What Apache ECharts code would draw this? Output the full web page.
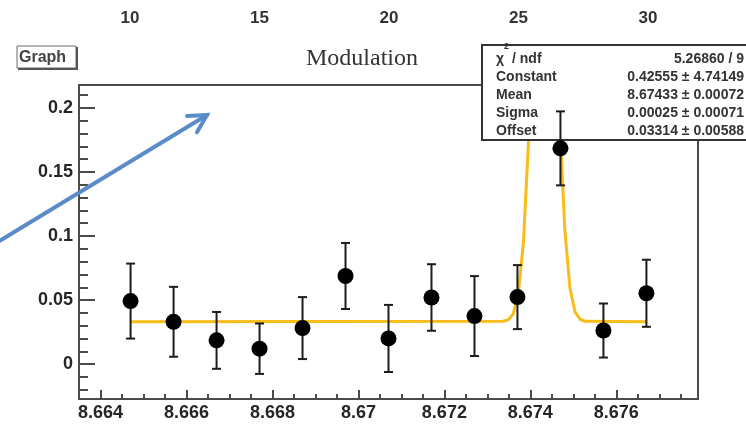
<!DOCTYPE html>
<html>
<head>
<meta charset="utf-8">
<script src="https://cdn.jsdelivr.net/npm/echarts@6/dist/echarts.min.js"></script>
<style>
  html, body { margin: 0; padding: 0; background: #ffffff; }
  #chart { width: 746px; height: 424px; }
</style>
</head>
<body>
<div id="chart"></div>
<script>
// Measured modulation amplitude per frequency bin, with symmetric errors
const pointX   = [8.6647, 8.6657, 8.6667, 8.6677, 8.6687, 8.6697, 8.6707, 8.6717, 8.6727, 8.6737, 8.6747, 8.6757, 8.6767];
const pointY   = [0.0492, 0.0330, 0.0185, 0.0120, 0.0281, 0.0688, 0.0200, 0.0520, 0.0375, 0.0523, 0.1685, 0.0262, 0.0553];
const pointErr = [0.0293, 0.0273, 0.0222, 0.0197, 0.0242, 0.0258, 0.0262, 0.0260, 0.0312, 0.0250, 0.0289, 0.0211, 0.0262];

// Vertices of the fitted gaussian-plus-offset curve
const fitX = [8.6647, 8.67336, 8.67348, 8.67360, 8.67372, 8.67384, 8.67396, 8.67408, 8.67420, 8.67432,
              8.67444, 8.67456, 8.67468, 8.67480, 8.67492, 8.67504, 8.67516, 8.67528, 8.6767];
const fitY = [0.0331, 0.0334, 0.0344, 0.0391, 0.0548, 0.0955, 0.1755, 0.2912, 0.4049, 0.4587,
              0.4194, 0.3119, 0.1929, 0.1058, 0.0594, 0.0407, 0.0348, 0.0334, 0.0331];

// Tick labels
const xTickLabels   = ['8.664', '8.666', '8.668', '8.67', '8.672', '8.674', '8.676'];
const yTickLabels   = ['0', '0.05', '0.1', '0.15', '0.2'];
const topTickLabels = ['10', '15', '20', '25', '30'];

// Fit statistics box
const chi2Text   = '5.26860 / 9';
const statNames  = ['Constant', 'Mean', 'Sigma', 'Offset'];
const statValues = ['0.42555 \u00b1 4.74149', '8.67433 \u00b1 0.00072', '0.00025 \u00b1 0.00071', '0.03314 \u00b1 0.00588'];

const titleText = 'Modulation';
const padLabel  = 'Graph';

const X_MIN = 8.6635, X_MAX = 8.6779;
const Y_MIN = -0.0273, Y_MAX = 0.218;

const frameColor = '#4a4a4a';
const labelFont = { fontFamily: 'Liberation Sans', fontWeight: 'bold', fontSize: 18, color: '#262626' };

function pickLabel(list) {
  return function (v) {
    const s = String(+(+v).toFixed(4));
    return list.indexOf(s) >= 0 ? s : '';
  };
}

const chart = echarts.init(document.getElementById('chart'), null, { renderer: 'canvas' });

// Stats box text elements
const statElems = [];
const rowY0 = 59, rowStep = 18;
statElems.push({
  type: 'text', z: 21, style: { x: 496, y: rowY0, text: '\u03c7', font: 'bold 14px "Liberation Sans"', fill: '#333', verticalAlign: 'middle' }
});
statElems.push({
  type: 'text', z: 21, style: { x: 504, y: 47, text: '2', font: 'bold 9px "Liberation Sans"', fill: '#333', verticalAlign: 'middle' }
});
statElems.push({
  type: 'text', z: 21, style: { x: 512, y: rowY0, text: '/ ndf', font: 'bold 14px "Liberation Sans"', fill: '#333', verticalAlign: 'middle' }
});
statElems.push({
  type: 'text', z: 21, style: { x: 744, y: rowY0, text: chi2Text, font: 'bold 14px "Liberation Sans"', fill: '#333', align: 'right', verticalAlign: 'middle' }
});
statNames.forEach(function (name, i) {
  const y = rowY0 + rowStep * (i + 1);
  statElems.push({
    type: 'text', z: 21, style: { x: 496, y: y, text: name, font: 'bold 14px "Liberation Sans"', fill: '#333', verticalAlign: 'middle' }
  });
  statElems.push({
    type: 'text', z: 21, style: { x: 744, y: y, text: statValues[i], font: 'bold 14px "Liberation Sans"', fill: '#333', align: 'right', verticalAlign: 'middle' }
  });
});

// Pointer arrow
const tip = [207, 115], tail = [-4, 243];
const dx = tail[0] - tip[0], dy = tail[1] - tip[1];
const len = Math.sqrt(dx * dx + dy * dy);
const ux = dx / len, uy = dy / len;
function rot(a) {
  const c = Math.cos(a), s = Math.sin(a);
  return [tip[0] + 20 * (ux * c - uy * s), tip[1] + 20 * (ux * s + uy * c)];
}
const arrowColor = '#5b8cc9';

const option = {
  animation: false,
  backgroundColor: '#ffffff',
  grid: [
    { left: 79, right: 48, top: 85, bottom: 25, show: true, borderColor: frameColor, borderWidth: 2, backgroundColor: '#ffffff' },
    { left: 130, width: 518, top: 30, height: 1, show: false }
  ],
  xAxis: [
    {
      gridIndex: 0, type: 'value', position: 'bottom', min: X_MIN, max: X_MAX, splitNumber: 7,
      axisLine: { show: true, onZero: false, lineStyle: { color: frameColor, width: 2 } },
      axisTick: { show: true, inside: true, length: 9, lineStyle: { color: frameColor, width: 2 } },
      axisLabel: Object.assign({ margin: 5, formatter: pickLabel(xTickLabels) }, labelFont),
      splitLine: { show: false }
    },
    {
      gridIndex: 0, type: 'value', position: 'bottom', min: X_MIN, max: X_MAX, splitNumber: 29,
      axisLine: { show: false, onZero: false },
      axisTick: { show: true, inside: true, length: 5, lineStyle: { color: frameColor, width: 2 } },
      axisLabel: { show: false },
      splitLine: { show: false }
    },
    {
      gridIndex: 1, type: 'value', position: 'top', min: 10, max: 30, interval: 5,
      axisLine: { show: false, onZero: false }, axisTick: { show: false }, splitLine: { show: false },
      axisLabel: Object.assign({ margin: 3, formatter: pickLabel(topTickLabels) }, labelFont, { fontSize: 17, color: '#333' })
    }
  ],
  yAxis: [
    {
      gridIndex: 0, type: 'value', position: 'left', min: Y_MIN, max: Y_MAX, splitNumber: 5,
      axisLine: { show: true, onZero: false, lineStyle: { color: frameColor, width: 2 } },
      axisTick: { show: true, inside: true, length: 16, lineStyle: { color: frameColor, width: 2 } },
      axisLabel: Object.assign({ margin: 6, formatter: pickLabel(yTickLabels) }, labelFont),
      splitLine: { show: false }
    },
    {
      gridIndex: 0, type: 'value', position: 'left', min: Y_MIN, max: Y_MAX, splitNumber: 24,
      axisLine: { show: false, onZero: false },
      axisTick: { show: true, inside: true, length: 9, lineStyle: { color: frameColor, width: 2 } },
      axisLabel: { show: false },
      splitLine: { show: false }
    },
    { gridIndex: 1, type: 'value', show: false, min: 0, max: 1 }
  ],
  series: [
    {
      name: 'fit', type: 'line', xAxisIndex: 0, yAxisIndex: 0, z: 1, silent: true,
      showSymbol: false, smooth: false, clip: true,
      lineStyle: { color: '#f9bd19', width: 3 },
      data: fitX.map(function (x, i) { return [x, fitY[i]]; })
    },
    {
      name: 'errors', type: 'custom', xAxisIndex: 0, yAxisIndex: 0, z: 30, silent: true,
      encode: { x: 0, y: [1, 2] },
      data: pointX.map(function (x, i) { return [x, pointY[i] - pointErr[i], pointY[i] + pointErr[i]]; }),
      renderItem: function (params, api) {
        const x = api.value(0);
        const lo = api.coord([x, api.value(1)]);
        const hi = api.coord([x, api.value(2)]);
        const cap = 4.5;
        const st = { stroke: '#1c1c1c', lineWidth: 2 };
        return {
          type: 'group',
          children: [
            { type: 'line', shape: { x1: lo[0], y1: lo[1], x2: hi[0], y2: hi[1] }, style: st },
            { type: 'line', shape: { x1: lo[0] - cap, y1: lo[1], x2: lo[0] + cap, y2: lo[1] }, style: st },
            { type: 'line', shape: { x1: hi[0] - cap, y1: hi[1], x2: hi[0] + cap, y2: hi[1] }, style: st }
          ]
        };
      }
    },
    {
      name: 'data', type: 'scatter', xAxisIndex: 0, yAxisIndex: 0, z: 31, silent: true,
      symbol: 'circle', symbolSize: 16,
      itemStyle: { color: '#000000', opacity: 1 },
      data: pointX.map(function (x, i) { return [x, pointY[i]]; })
    }
  ],
  graphic: [
    // pad label box
    { type: 'rect', z: 20, shape: { x: 17, y: 46, width: 59, height: 22 }, style: { fill: '#ffffff', stroke: '#6a6a6a', lineWidth: 1 } },
    { type: 'line', z: 20, shape: { x1: 77, y1: 47, x2: 77, y2: 69 }, style: { stroke: '#555', lineWidth: 2 } },
    { type: 'line', z: 20, shape: { x1: 18, y1: 69, x2: 78, y2: 69 }, style: { stroke: '#555', lineWidth: 2 } },
    { type: 'text', z: 21, style: { x: 19, y: 58, text: padLabel, font: 'bold 16px "Liberation Sans"', fill: '#444', verticalAlign: 'middle' } },
    // title
    { type: 'text', z: 21, style: { x: 362, y: 59, text: titleText, font: '24px "Liberation Serif"', fill: '#333', align: 'center', verticalAlign: 'middle' } },
    // stats box
    { type: 'rect', z: 20, shape: { x: 482, y: 45, width: 290, height: 95 }, style: { fill: '#ffffff', stroke: '#333', lineWidth: 2 } }
  ].concat(statElems).concat([
    { type: 'line', z: 40, shape: { x1: tail[0], y1: tail[1], x2: tip[0], y2: tip[1] }, style: { stroke: arrowColor, lineWidth: 4, lineCap: 'round' } },
    { type: 'polyline', z: 40, shape: { points: [rot(0.5), tip, rot(-0.5)] }, style: { stroke: arrowColor, lineWidth: 4, lineCap: 'round', lineJoin: 'miter', fill: null } }
  ])
};

chart.setOption(option);
</script>
</body>
</html>
